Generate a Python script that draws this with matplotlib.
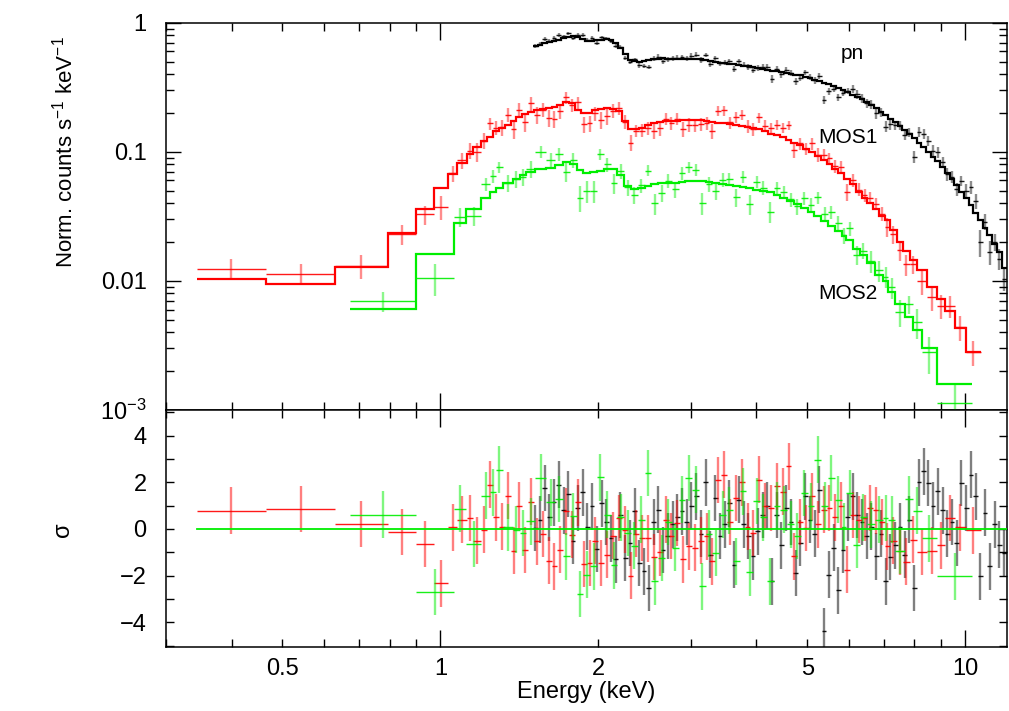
import numpy as np
import matplotlib
matplotlib.use("Agg")
import matplotlib.pyplot as plt
from matplotlib.collections import LineCollection
from matplotlib.ticker import FixedLocator, FixedFormatter, FuncFormatter

plt.rcParams['font.family'] = ['Liberation Sans', 'DejaVu Sans']
plt.rcParams['mathtext.fontset'] = 'custom'
plt.rcParams['mathtext.rm'] = 'Liberation Sans'
plt.rcParams['mathtext.default'] = 'regular'
plt.rcParams['axes.unicode_minus'] = True

# ---------------- pn (black) ----------------
pn_edges = [1.500, 1.532, 1.564, 1.597, 1.630, 1.664, 1.699, 1.735, 1.771, 1.809,
            1.847, 1.885, 1.925, 1.965, 2.007, 2.049, 2.092, 2.136, 2.181, 2.226,
            2.273, 2.321, 2.370, 2.419, 2.470, 2.522, 2.575, 2.629, 2.684, 2.741,
            2.798, 2.857, 2.917, 2.978, 3.041, 3.105, 3.170, 3.236, 3.304, 3.374,
            3.445, 3.517, 3.591, 3.666, 3.743, 3.822, 3.902, 3.984, 4.068, 4.153,
            4.241, 4.330, 4.421, 4.513, 4.608, 4.705, 4.804, 4.905, 5.008, 5.113,
            5.220, 5.330, 5.442, 5.556, 5.673, 5.792, 5.914, 6.038, 6.165, 6.294,
            6.426, 6.561, 6.699, 6.840, 6.984, 7.130, 7.280, 7.433, 7.589, 7.749,
            7.911, 8.078, 8.247, 8.420, 8.597, 8.778, 8.962, 9.150, 9.343, 9.539,
            9.739, 9.944, 10.15, 10.37, 10.58, 10.81, 11.03, 11.26, 11.50, 11.74,
            11.99]
pn_model = [0.663, 0.677, 0.690, 0.705, 0.720, 0.737, 0.755, 0.775, 0.785, 0.772,
            0.748, 0.727, 0.726, 0.728, 0.733, 0.745, 0.738, 0.700, 0.635, 0.568,
            0.514, 0.502, 0.500, 0.505, 0.513, 0.520, 0.525, 0.530, 0.528, 0.526,
            0.524, 0.523, 0.524, 0.528, 0.527, 0.520, 0.512, 0.505, 0.497, 0.490,
            0.485, 0.480, 0.475, 0.471, 0.466, 0.461, 0.456, 0.448, 0.439, 0.430,
            0.424, 0.421, 0.415, 0.409, 0.402, 0.396, 0.390, 0.381, 0.371, 0.361,
            0.352, 0.342, 0.333, 0.325, 0.314, 0.301, 0.289, 0.277, 0.265, 0.255,
            0.244, 0.232, 0.218, 0.205, 0.192, 0.180, 0.169, 0.159, 0.148, 0.137,
            0.127, 0.117, 0.108, 0.0994, 0.0917, 0.0843, 0.0761, 0.0686, 0.0619, 0.0552,
            0.0490, 0.0435, 0.0385, 0.0338, 0.0296, 0.0259, 0.0226, 0.0194, 0.0167, 0.0125]
pn_data = [0.664, 0.689, 0.745, 0.721, 0.757, 0.800, 0.782, 0.827, 0.767, 0.803,
           0.801, 0.730, 0.758, 0.700, 0.769, 0.755, 0.725, 0.659, 0.652, 0.536,
           0.500, 0.519, 0.467, 0.464, 0.455, 0.528, 0.547, 0.506, 0.520, 0.531,
           0.537, 0.543, 0.532, 0.554, 0.564, 0.515, 0.563, 0.477, 0.530, 0.483,
           0.490, 0.506, 0.439, 0.501, 0.471, 0.454, 0.429, 0.445, 0.455, 0.456,
           0.367, 0.436, 0.398, 0.431, 0.409, 0.351, 0.376, 0.413, 0.380, 0.357,
           0.387, 0.252, 0.294, 0.309, 0.264, 0.285, 0.298, 0.308, 0.278, 0.261,
           0.238, 0.234, 0.198, 0.202, 0.157, 0.163, 0.160, 0.160, 0.135, 0.141,
           0.0917, 0.143, 0.137, 0.121, 0.102, 0.0992, 0.0828, 0.0671, 0.0639, 0.0516,
           0.0596, 0.0498, 0.0529, 0.0414, 0.0200, 0.0288, 0.0168, 0.0200, 0.0149, 0.0104]
pn_resid = [0.04, 0.4, 1.76, 0.5, 1.14, 1.9, 0.8, 1.5, -0.5, 0.9,
            1.57, 0.1, 0.97, -0.86, 1.1, 0.3, -0.4, -1.3, 0.6, -1.24,
            -0.6, 0.75, -1.46, -1.82, -2.53, 0.3, 0.83, -0.9, -0.3, 0.2,
            0.5, 0.75, 0.3, 1.0, 1.4, -0.2, 2.0, -1.1, 1.33, -0.3,
            0.2, 1.1, -1.53, 1.26, 0.2, -0.3, -1.17, -0.1, 0.6, 1.0,
            -2.25, 0.6, -0.7, 0.9, 0.3, -1.89, -0.6, 1.4, 0.4, -0.2,
            1.68, -4.39, -1.96, -0.8, -2.63, -0.9, 0.5, 1.4, 0.6, 0.3,
            -0.3, 0.1, -1.17, -0.2, -2.25, -1.2, -0.7, 0.1, -1.1, 0.4,
            -2.53, 2.0, 2.47, 1.97, 1.0, 1.61, 0.8, -0.2, 0.3, -0.6,
            1.97, 0.9, 2.33, 1.4, -2.03, 0.7, -1.6, 0.2, -0.67, -1.03]
pn_relerr_bands = [(2.5, 0.035), (4.0, 0.045), (6.0, 0.055), (8.0, 0.08), (10.0, 0.11), (12.5, 0.16)]

# ---------------- MOS1 (red) ----------------
mos1_edges = [0.343, 0.466, 0.629, 0.795, 0.900, 0.972, 1.034, 1.077, 1.126, 1.154, 1.197,
              1.228, 1.260, 1.293, 1.326, 1.361, 1.396, 1.433, 1.470, 1.508, 1.547,
              1.588, 1.629, 1.671, 1.715, 1.759, 1.805, 1.852, 1.900, 1.949, 2.000,
              2.052, 2.105, 2.160, 2.216, 2.274, 2.333, 2.394, 2.456, 2.520, 2.585,
              2.652, 2.721, 2.792, 2.865, 2.939, 3.016, 3.094, 3.175, 3.257, 3.342,
              3.429, 3.518, 3.609, 3.703, 3.800, 3.898, 4.000, 4.104, 4.210, 4.320,
              4.432, 4.548, 4.666, 4.787, 4.912, 5.039, 5.170, 5.305, 5.443, 5.584,
              5.730, 5.879, 6.031, 6.188, 6.349, 6.514, 6.684, 6.857, 7.03,
              7.19, 7.40, 7.62, 7.84, 8.08, 8.45, 8.83, 9.15, 9.56, 10.04, 10.70]
mos1_model = [0.01026, 0.00942, 0.01285, 0.0233, 0.036, 0.052, 0.0672, 0.0821, 0.0955, 0.108,
              0.122, 0.131, 0.144, 0.153, 0.162, 0.173, 0.185, 0.195, 0.204, 0.210,
              0.216, 0.219, 0.223, 0.232, 0.242, 0.237, 0.212, 0.199, 0.201, 0.211,
              0.215, 0.217, 0.216, 0.207, 0.172, 0.151, 0.149, 0.153, 0.160, 0.167,
              0.171, 0.172, 0.173, 0.174, 0.175, 0.176, 0.176, 0.175, 0.173, 0.171,
              0.168, 0.166, 0.164, 0.161, 0.158, 0.156, 0.153, 0.150, 0.144, 0.138,
              0.134, 0.130, 0.124, 0.118, 0.112, 0.106, 0.099, 0.093, 0.086, 0.080,
              0.074, 0.068, 0.062, 0.056, 0.049, 0.044, 0.040, 0.036, 0.032,
              0.0296, 0.0249, 0.0201, 0.0170, 0.0145, 0.0121, 0.0090, 0.0073, 0.0058, 0.0043, 0.0028]
mos1_data = [0.0124, 0.0114, 0.0131, 0.0229, 0.0327, 0.0375, 0.0680, 0.0860, 0.102, 0.100,
             0.122, 0.166, 0.154, 0.155, 0.194, 0.150, 0.211, 0.170, 0.237, 0.194,
             0.211, 0.183, 0.180, 0.207, 0.264, 0.230, 0.241, 0.163, 0.166, 0.198,
             0.177, 0.188, 0.208, 0.219, 0.171, 0.118, 0.146, 0.146, 0.153, 0.145,
             0.152, 0.180, 0.167, 0.179, 0.150, 0.162, 0.161, 0.165, 0.167, 0.145,
             0.207, 0.209, 0.169, 0.185, 0.193, 0.158, 0.150, 0.185, 0.159, 0.152,
             0.161, 0.153, 0.161, 0.103, 0.116, 0.106, 0.116, 0.095, 0.095, 0.089,
             0.078, 0.076, 0.049, 0.060, 0.051, 0.046, 0.044, 0.0395, 0.0332,
             0.0263, 0.0230, 0.0172, 0.0134, 0.0135, 0.0100, 0.0075, 0.0064, 0.0064, 0.0044, 0.0028]
mos1_resid = [0.78, 0.86, 0.21, -0.13, -0.64, -2.34, 0.07, 0.4, 0.47, -0.5,
              -0.03, 1.9, 0.5, 0.1, 1.43, -0.93, 1.0, -0.9, 1.17, -0.53,
              -0.21, -1.36, -1.6, -0.89, 0.75, -0.24, 1.14, -1.5, -1.46, -0.5,
              -1.46, -1.1, -0.29, 0.47, -0.03, -2.0, -0.2, -0.39, -0.4, -1.2,
              -1.0, 0.4, -0.3, 0.26, -1.31, -0.74, -0.8, -0.5, -0.32, -1.39,
              2.1, 2.33, 0.3, 1.33, 2.0, 0.1, -0.17, 2.11, 0.97, 0.9,
              1.83, 1.6, 2.68, -1.17, 0.3, 0.04, 1.4, 0.2, 0.83, 0.9,
              0.5, 1.0, -1.74, 0.6, 0.4, 0.47, 0.9, 0.8, 0.3,
              -0.75, -0.5, -0.96, -1.4, -0.46, -0.99, -0.93, -0.7, 0.47, 0.07, -0.06]
mos1_relerr_bands = [(0.8, 0.22), (0.9, 0.17), (1.2, 0.15), (1.55, 0.14), (2.25, 0.12),
                     (5.0, 0.11), (7.0, 0.12), (8.1, 0.15), (9.2, 0.18), (12.5, 0.22)]

# ---------------- MOS2 (green) ----------------
mos2_edges = [0.674, 0.900, 1.063, 1.121, 1.197, 1.242, 1.275, 1.316, 1.375, 1.416,
              1.458, 1.513, 1.592, 1.651, 1.713,
              1.765, 1.818, 1.873, 1.930, 1.988, 2.048, 2.110, 2.174, 2.240, 2.308,
              2.378, 2.450, 2.524, 2.600, 2.679, 2.760, 2.843, 2.929, 3.018, 3.109,
              3.203, 3.300, 3.400, 3.503, 3.609, 3.718, 3.830, 3.946, 4.065, 4.188,
              4.315, 4.445, 4.580, 4.718, 4.861, 5.008, 5.160, 5.316, 5.477, 5.643, 5.813,
              5.94, 6.12, 6.30, 6.49, 6.73, 6.98, 7.14, 7.35, 7.68, 7.96, 8.26, 8.83, 10.32]
mos2_model = [0.0061, 0.0163, 0.0282, 0.0363, 0.0438, 0.0485, 0.052, 0.057, 0.0619, 0.066,
              0.0701, 0.0732, 0.075, 0.079,
              0.0835, 0.0805, 0.0725, 0.0685, 0.0695, 0.0715, 0.0735, 0.0730, 0.0660, 0.0545,
              0.0512, 0.0522, 0.0545, 0.0565, 0.0572, 0.0572, 0.0574, 0.0585, 0.0592, 0.0595,
              0.0590, 0.0582, 0.0575, 0.0565, 0.0556, 0.0545, 0.0532, 0.0520, 0.0508, 0.0496,
              0.0485, 0.0465, 0.0442, 0.0418, 0.0392, 0.0365, 0.0342, 0.0320, 0.0292, 0.0267,
              0.0242, 0.0222,
              0.0207, 0.0178, 0.0159, 0.0137, 0.0112, 0.0099, 0.0082, 0.00662, 0.00522, 0.00414,
              0.00303, 0.00158]
mos2_data = [0.00696, 0.0106, 0.0313, 0.0320, 0.0560, 0.0650, 0.0760, 0.0575, 0.0619, 0.0643,
             0.0736, 0.100, 0.0871, 0.096,
             0.0698, 0.0866, 0.0442, 0.0497, 0.050, 0.096, 0.0798, 0.0571, 0.0706, 0.0532,
             0.0464, 0.0549, 0.0715, 0.0400, 0.0480, 0.0594, 0.0514, 0.0681, 0.0761, 0.0725,
             0.0401, 0.0567, 0.0498, 0.0610, 0.0614, 0.0447, 0.0643, 0.0394, 0.0587, 0.0528,
             0.0343, 0.0525, 0.0490, 0.0429, 0.0377, 0.0438, 0.0385, 0.0444, 0.0330, 0.0343,
             0.0282, 0.0225,
             0.0255, 0.0160, 0.0171, 0.0142, 0.0121, 0.0108, 0.0089, 0.00575, 0.00657, 0.0048,
             0.0028, 0.00113]
mos2_resid = [0.61, -2.7, 0.87, -0.64, 1.43, 1.57, 2.54, 0.07, -0.03, -0.17,
              0.33, 2.2, 1.14, 1.29,
              -1.17, 0.54, -2.79, -1.96, -1.6, 2.21, 0.61, -1.56, 0.5, -0.17,
              -0.72, 0.4, 2.4, -2.25, -1.24, 0.3, -0.8, 1.26, 2.19, 1.68,
              -2.46, -0.2, -1.03, 0.61, 0.8, -1.39, 1.61, -1.86, 1.2, 0.5,
              -2.25, 1.0, 0.83, 0.2, -0.3, 1.54, 0.97, 2.97, 1.0, 2.19,
              1.26, 0.1,
              1.54, -0.67, 0.5, 0.2, 0.4, 0.47, 0.4, -0.93, 1.29, 0.79, -0.41, -2.03]
mos2_relerr_bands = [(0.9, 0.2), (1.1, 0.18), (1.6, 0.15), (2.3, 0.14), (5.0, 0.13),
                     (6.5, 0.15), (8.0, 0.2), (12.5, 0.3)]

labels = ['pn', 'MOS1', 'MOS2']
label_pos = [(5.80, 0.52), (5.24, 0.116), (5.24, 0.00721)]

x_major = [1, 10]
x_minor = [0.3, 0.4, 0.5, 0.6, 0.7, 0.8, 0.9, 2, 3, 4, 5, 6, 7, 8, 9]
x_minor_labels = {0.5: '0.5', 2: '2', 5: '5'}
y_top_major = [1e-3, 1e-2, 1e-1, 1]
y_top_labels = ['10$^{\u22123}$', '0.01', '0.1', '1']
y_res_major = [-4, -2, 0, 2, 4]
y_res_minor = [-5, -3, -1, 1, 3, 5]

RED = '#ff0000'
GREEN = '#00ee00'
BLACK = '#000000'


def band_err(centers, bands):
    out = []
    for c in centers:
        val = bands[-1][1]
        for emax, e in bands:
            if c <= emax:
                val = e
                break
        out.append(val)
    return np.array(out)


fig = plt.figure(figsize=(10.09, 7.11), dpi=100)
ax1 = fig.add_axes([0.16452, 0.42335, 0.8332, 0.54473])
ax2 = fig.add_axes([0.16452, 0.09044, 0.8332, 0.33291], sharex=ax1)


def draw(edges, data, model, resid, bands, color, z):
    edges = np.asarray(edges, float)
    lo, hi = edges[:-1], edges[1:]
    c = np.sqrt(lo * hi)
    data = np.asarray(data, float)
    model = np.asarray(model, float)
    resid = np.asarray(resid, float)
    err = band_err(c, bands) * model
    h = [[(a, d), (b, d)] for a, b, d in zip(lo, hi, data)]
    v = [[(x, d - e), (x, d + e)] for x, d, e in zip(c, data, err)]
    ax1.add_collection(LineCollection(v, colors=color, linewidths=1.7, alpha=0.45, zorder=z))
    ax1.add_collection(LineCollection(h, colors=color, linewidths=1.0, alpha=0.9, zorder=z))
    ax1.stairs(model, edges, baseline=None, color=color, lw=1.6, zorder=z + 0.5)
    hr = [[(a, r), (b, r)] for a, b, r in zip(lo, hi, resid)]
    vr = [[(x, r - 1), (x, r + 1)] for x, r in zip(c, resid)]
    ax2.add_collection(LineCollection(vr, colors=color, linewidths=1.7, alpha=0.5, zorder=z))
    ax2.add_collection(LineCollection(hr, colors=color, linewidths=1.0, alpha=0.9, zorder=z))


draw(pn_edges, pn_data, pn_model, pn_resid, pn_relerr_bands, BLACK, 2)
draw(mos1_edges, mos1_data, mos1_model, mos1_resid, mos1_relerr_bands, RED, 3)
draw(mos2_edges, mos2_data, mos2_model, mos2_resid, mos2_relerr_bands, GREEN, 4)

ax2.plot([mos1_edges[0], 12.0], [0, 0], color=GREEN, lw=1.3, zorder=6)

for (tx, ty), lab in zip(label_pos, labels):
    ax1.text(tx, ty, lab, fontsize=15, ha='left', va='baseline')

for ax in (ax1, ax2):
    ax.set_xscale('log')
    ax.set_xlim(0.3, 12.0)
    for s in ax.spines.values():
        s.set_linewidth(1.1)
    ax.tick_params(which='both', direction='in', top=True, right=True, width=1.0,
                   labelsize=17)

ax1.set_yscale('log')
ax1.set_ylim(1e-3, 1)
ax2.set_ylim(-5.05, 5.1)

ax2.xaxis.set_major_locator(FixedLocator(x_major))
ax2.xaxis.set_major_formatter(FixedFormatter([str(v) for v in x_major]))
ax2.xaxis.set_minor_locator(FixedLocator(x_minor))
ax2.xaxis.set_minor_formatter(FuncFormatter(lambda v, p: x_minor_labels.get(round(v, 3), '')))
ax1.tick_params(axis='x', which='both', labelbottom=False)
ax1.tick_params(axis='x', which='major', length=12)
ax1.tick_params(axis='x', which='minor', length=6)
ax2.tick_params(axis='x', which='major', length=12, pad=8)
ax2.tick_params(axis='x', which='minor', length=6, pad=8)

ax1.yaxis.set_major_locator(FixedLocator(y_top_major))
ax1.yaxis.set_major_formatter(FixedFormatter(y_top_labels))
ax1.yaxis.set_minor_locator(FixedLocator([m * 10.0 ** k for k in (-3, -2, -1) for m in range(2, 10)]))
ax1.yaxis.set_minor_formatter(FuncFormatter(lambda v, p: ''))
ax1.tick_params(axis='y', which='major', length=11, pad=14)
ax1.tick_params(axis='y', which='minor', length=6)

ax2.yaxis.set_major_locator(FixedLocator(y_res_major))
ax2.yaxis.set_major_formatter(FixedFormatter(['\u22124', '\u22122', '0', '2', '4']))
ax2.yaxis.set_minor_locator(FixedLocator(y_res_minor))
ax2.tick_params(axis='y', which='both', length=6, pad=14)

fig.text(65 / 1009, 1 - 152 / 711, 'Norm. counts s$^{\u22121}$ keV$^{\u22121}$', rotation=90,
         ha='center', va='center', fontsize=16)
fig.text(63 / 1009, 1 - 530 / 711, '\u03c3', rotation=90, ha='center', va='center', fontsize=17)
fig.text(586 / 1009, 1 - 692 / 711, 'Energy (keV)', ha='center', va='center', fontsize=17)

fig.savefig('out.png', dpi=100)
